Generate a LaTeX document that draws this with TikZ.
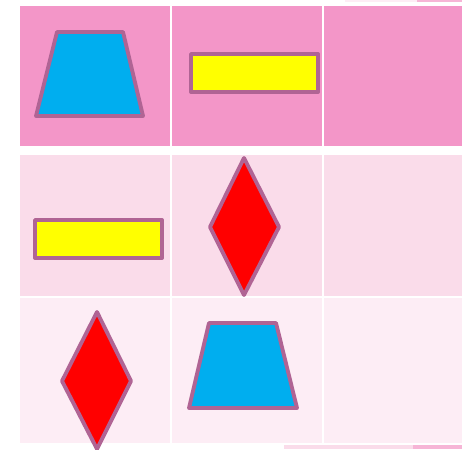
\documentclass[tikz,border=0pt]{standalone}
\usepackage{tikz}
\usetikzlibrary{positioning}

\definecolor{rowA}{RGB}{243,150,200}
\definecolor{rowB}{RGB}{250,220,234}
\definecolor{rowC}{RGB}{253,237,245}
\definecolor{edgecol}{RGB}{176,100,148}
\definecolor{trapblue}{RGB}{0,174,239}
\definecolor{baryellow}{RGB}{255,255,0}
\definecolor{rhombred}{RGB}{255,0,0}
\definecolor{stripcol}{RGB}{246,181,214}

\begin{document}
\begin{tikzpicture}[x=0.02cm, y=-0.02cm]
            \tikzstyle{shapeline}=[draw=edgecol, line width=2.2pt, line join=round]
            \tikzstyle{trap}=[shapeline, fill=trapblue]
            \tikzstyle{bar}=[shapeline, fill=baryellow]
            \tikzstyle{rhomb}=[shapeline, fill=rhombred]

            \useasboundingbox (0,0) rectangle (462,449);

            % bits of neighbouring shapes, cut off at the edges
            \fill[rowC] (345,0) rectangle (462,2);
            \fill[stripcol] (417,0) rectangle (462,2);
            \fill[rowB] (284,445) rectangle (462,449);
            \fill[stripcol] (413,445) rectangle (462,449);

            % cells of the grid
            \fill[rowA] (20,6) rectangle (170,146);
            \fill[rowA] (172,6) rectangle (322,146);
            \fill[rowA] (324,6) rectangle (462,146);
            \fill[rowB] (20,155) rectangle (170,296);
            \fill[rowB] (172,155) rectangle (322,296);
            \fill[rowB] (324,155) rectangle (462,296);
            \fill[rowC] (20,298) rectangle (170,443);
            \fill[rowC] (172,298) rectangle (322,443);
            \fill[rowC] (324,298) rectangle (462,443);

            % first row
            \draw[trap] (36,116) -- (57,32) -- (123,32) -- (143,116) -- cycle;
            \draw[bar] (191,54) rectangle (318,92);

            % second row
            \draw[bar] (35,220) rectangle (162,258);
            \draw[rhomb] (244,158) -- (279,227) -- (244,295) -- (210,227) -- cycle;

            % third row
            \draw[rhomb] (97,312) -- (131,381) -- (97,449) -- (62,381) -- cycle;
            \draw[trap] (189,408) -- (209,323) -- (276,323) -- (297,408) -- cycle;
        \end{tikzpicture}
\end{document}
